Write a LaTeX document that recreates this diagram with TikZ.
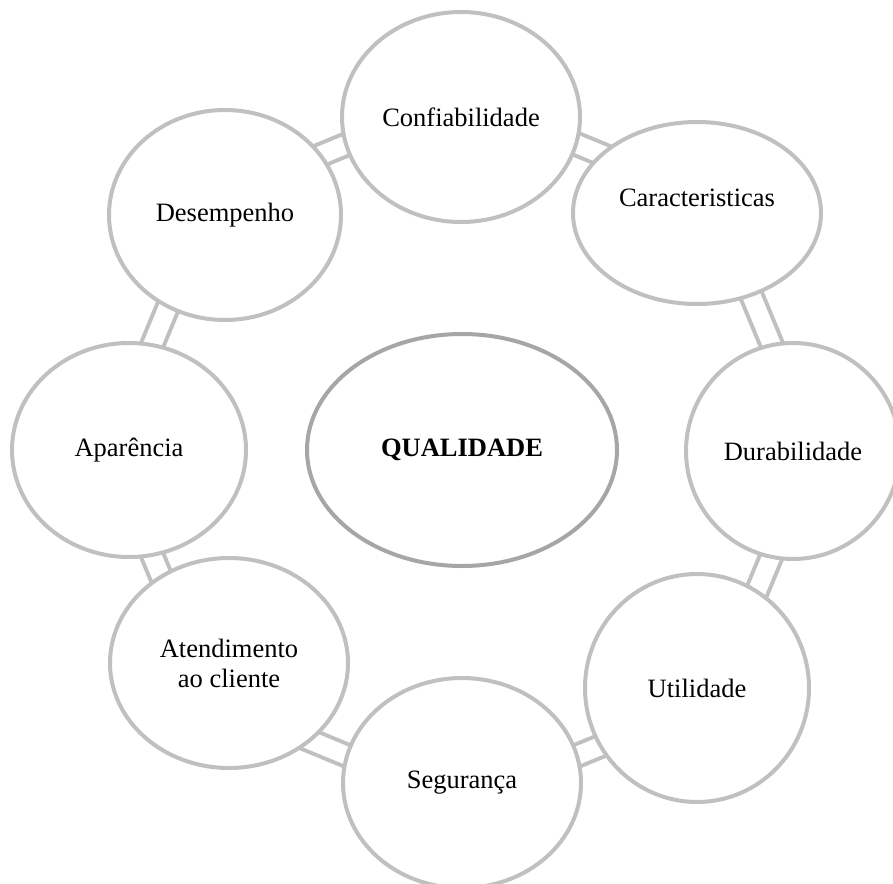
\documentclass[tikz,border=0pt]{standalone}
\usepackage{fontspec}
\setmainfont{Liberation Serif}
\usetikzlibrary{shapes.geometric,backgrounds,calc}
\definecolor{ringgray}{HTML}{C0C0C0}
\definecolor{hubgray}{HTML}{A6A6A6}
\tikzset{
  item/.style={ellipse, draw=ringgray, line width=4pt, fill=white, inner sep=0pt,
    font=\fontsize{26.5}{30}\selectfont, align=center},
  hubnode/.style={ellipse, draw=hubgray, line width=4pt, fill=white, inner sep=0pt,
    font=\fontsize{26.5}{30}\selectfont\bfseries},
  link/.style={draw=ringgray, line width=4pt, double=white, double distance=18pt}
}
\begin{document}
\begin{tikzpicture}[x=1pt,y=-1pt]
\useasboundingbox (0,0) rectangle (893,883);
\clip (0,0) rectangle (893,883);
\node[item, minimum width=238pt, minimum height=210pt] (conf) at (461,117) {Confiabilidade};
\node[item, minimum width=248pt, minimum height=182pt] (carac) at (697,213) {\raisebox{30pt}{Caracteristicas}};
\node[item, minimum width=214pt, minimum height=216pt] (dura) at (793,451) {Durabilidade};
\node[item, minimum width=224pt, minimum height=228pt] (util) at (697,688) {Utilidade};
\node[item, minimum width=238pt, minimum height=210pt] (seg) at (462,783) {Segurança};
\node[item, minimum width=238pt, minimum height=210pt] (aten) at (229,663) {Atendimento\\ao cliente};
\node[item, minimum width=234pt, minimum height=214pt] (apar) at (129,450) {Aparência};
\node[item, minimum width=232pt, minimum height=210pt] (desem) at (225,215) {Desempenho};
\node[hubnode, minimum width=310pt, minimum height=232pt] (hub) at (462,450) {QUALIDADE};
\begin{scope}[on background layer]
\foreach \m [count=\i] in {67.5,22.5,-22.5,-67.5,-112.5,-157.5,157.5,112.5}{
  \coordinate (k\i a) at ($(hub.center)+(\m-15:338pt)$);
  \coordinate (k\i b) at ($(hub.center)+(\m+15:338pt)$);
  \draw[link] (k\i a) -- (k\i b);
}
\end{scope}
\end{tikzpicture}
\end{document}
